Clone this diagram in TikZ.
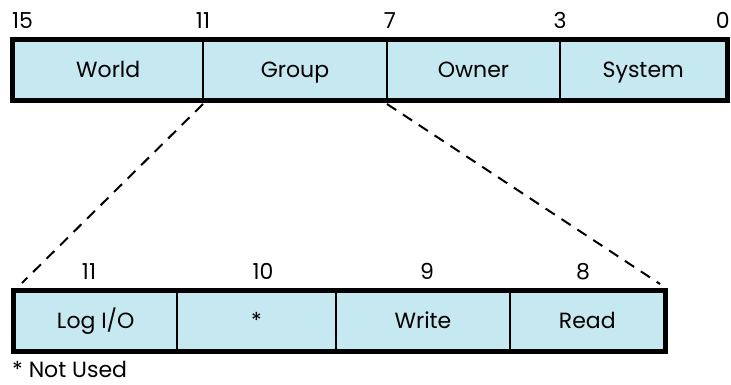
\documentclass[tikz,border=0pt]{standalone}
\usepackage{fontspec}
\setmainfont{Poppins}
\definecolor{cellblue}{RGB}{198,232,240}
\begin{document}
\begin{tikzpicture}[x=1pt,y=-1pt,
  txt/.style={inner sep=0pt,font=\fontsize{22}{26}\selectfont,text height=15.4pt,text depth=0pt},
  cell/.style={txt,draw=black,line width=2pt,fill=cellblue},
  num/.style={txt},
  frame/.style={draw=black,line width=5pt},
  guide/.style={draw=black,line width=2pt,dash pattern=on 11pt off 8pt}]
\useasboundingbox (0,0) rectangle (731,385);
% top register
\node[cell,minimum width=189.5pt,minimum height=59pt] (world) at (108.25,70) {World};
\node[cell,minimum width=184pt,minimum height=59pt] (group) at (295,70) {Group};
\node[cell,minimum width=173pt,minimum height=59pt] (owner) at (473.5,70) {Owner};
\node[cell,minimum width=166.5pt,minimum height=59pt] (system) at (643.25,70) {System};
\draw[frame] (world.north west) rectangle (system.south east);
\node[num,anchor=west] (b15) at (12,20.5) {15};
\node[num] (b11t) at (203,20.5) {11};
\node[num] (b7) at (390,20.5) {7};
\node[num] (b3) at (560,20.5) {3};
\node[num,anchor=east] (b0) at (730,20.5) {0};
% bottom register
\node[cell,minimum width=162.5pt,minimum height=59.5pt] (log) at (95.75,320.75) {Log I/O};
\node[cell,minimum width=159pt,minimum height=59.5pt] (unused) at (256.5,320.75) {*};
\node[cell,minimum width=174pt,minimum height=59.5pt] (write) at (423,320.75) {Write};
\node[cell,minimum width=154.5pt,minimum height=59.5pt] (read) at (587.25,320.75) {Read};
\draw[frame] (log.north west) rectangle (read.south east);
\node[num] (b11) at (89,271.5) {11};
\node[num] (b10) at (263,271.5) {10};
\node[num] (b9) at (427,271.5) {9};
\node[num] (b8) at (583,271.5) {8};
\node[num,anchor=west] (note) at (12,369.5) {* Not Used};
% expansion guides
\coordinate (gl) at (22,283);
\coordinate (gr) at (660,284);
\coordinate (gs1) at (203,104);
\coordinate (gs2) at (387,104);
\draw[guide] (gs1) -- (gl);
\draw[guide] (gs2) -- (gr);
\end{tikzpicture}
\end{document}
